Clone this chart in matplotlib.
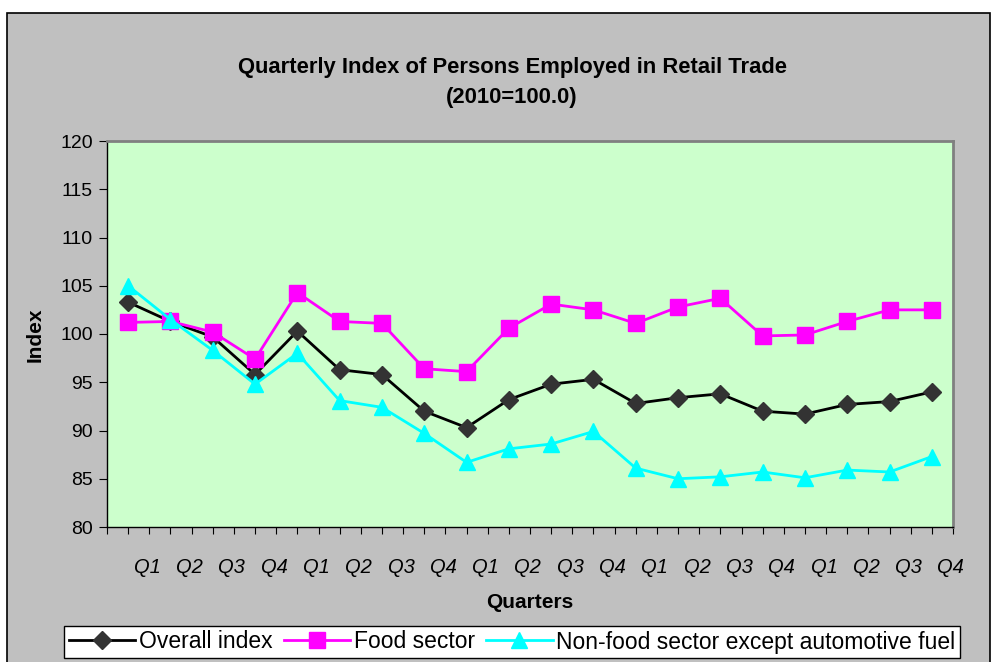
import numpy as np
import matplotlib.pyplot as plt
from matplotlib.patches import Rectangle
from matplotlib.ticker import FixedLocator

plt.rcParams['font.family'] = ['Liberation Sans', 'DejaVu Sans']

quarters = ['Q1', 'Q2', 'Q3', 'Q4'] * 5
overall = [103.3, 101.3, 99.7, 95.8, 100.3, 96.3, 95.8, 92.0, 90.3, 93.2,
           94.8, 95.3, 92.8, 93.4, 93.8, 92.0, 91.7, 92.7, 93.0, 94.0]
food = [101.2, 101.3, 100.2, 97.4, 104.3, 101.3, 101.1, 96.4, 96.1, 100.6,
        103.1, 102.5, 101.1, 102.8, 103.7, 99.8, 99.9, 101.3, 102.5, 102.5]
non_food = [105.0, 101.5, 98.3, 94.8, 98.0, 93.1, 92.4, 89.7, 86.7, 88.1,
            88.6, 89.9, 86.1, 85.0, 85.2, 85.7, 85.1, 85.9, 85.7, 87.3]

W, H = 994, 662
fig = plt.figure(figsize=(W / 100, H / 100), dpi=100)
fig.patch.set_facecolor('white')

# grey chart area with border
fig.patches.append(Rectangle((7 / W, -0.01), 983 / W, 1.01 - 13 / H, transform=fig.transFigure,
                             facecolor='#c0c0c0', edgecolor='black', lw=1.2, zorder=-5))

left, right, top, bottom = 107, 953, 141, 527
ax = fig.add_axes([left / W, 1 - bottom / H, (right - left) / W, (bottom - top) / H])
ax.set_zorder(1)
ax.set_facecolor('#ccffcc')

x = np.arange(len(quarters))
ax.plot(x, overall, color='black', lw=2, marker='D', ms=9, mfc='#333333', mec='#333333',
        label='Overall index', zorder=3)
ax.plot(x, food, color='#ff00ff', lw=2, marker='s', ms=11, mfc='#ff00ff', mec='#ff00ff',
        label='Food sector', zorder=3)
ax.plot(x, non_food, color='#00ffff', lw=2, marker='^', ms=12, mfc='#00ffff', mec='#00ffff',
        label='Non-food sector except automotive fuel', zorder=3)

ax.set_xlim(-0.5, len(quarters) - 0.5)
ax.set_ylim(80, 120)
ax.set_yticks(np.arange(80, 121, 5))
ax.tick_params(axis='y', direction='out', length=6, labelsize=14, pad=4)

# ticks at boundaries and category centers, labels shifted half a step right
ax.xaxis.set_major_locator(FixedLocator(np.arange(-0.5, len(quarters), 0.5)))
ax.set_xticklabels([])
ax.tick_params(axis='x', direction='out', length=5)
for i, q in enumerate(quarters):
    ax.text(i + 0.45, -0.105, q, transform=ax.get_xaxis_transform(), ha='center', va='center',
            fontsize=14.5, fontstyle='italic')

for s in ['top', 'right']:
    ax.spines[s].set_color('#808080')
    ax.spines[s].set_linewidth(2)
for s in ['left', 'bottom']:
    ax.spines[s].set_color('black')
    ax.spines[s].set_linewidth(1)

fig.text(512 / W, 1 - 67 / H, 'Quarterly Index of Persons Employed in Retail Trade',
         ha='center', va='center', fontsize=15.8, fontweight='bold')
fig.text(512 / W, 1 - 98 / H, '(2010=100.0)', ha='center', va='center', fontsize=15.8,
         fontweight='bold')
fig.text(35 / W, 1 - 335 / H, 'Index', rotation=90, ha='center', va='center', fontsize=15,
         fontweight='bold')
fig.text(530 / W, 1 - 602 / H, 'Quarters', ha='center', va='center', fontsize=15,
         fontweight='bold')

leg = fig.legend(loc='center', bbox_to_anchor=(512 / W, 1 - 642 / H), ncol=3, fontsize=16.5,
                 frameon=True, fancybox=False, edgecolor='black', facecolor='white',
                 framealpha=1, handlelength=2.9, handletextpad=0.15, columnspacing=0.5,
                 borderpad=0.2, borderaxespad=0)
leg.get_frame().set_linewidth(1)

fig.savefig('out.png', dpi=100)
